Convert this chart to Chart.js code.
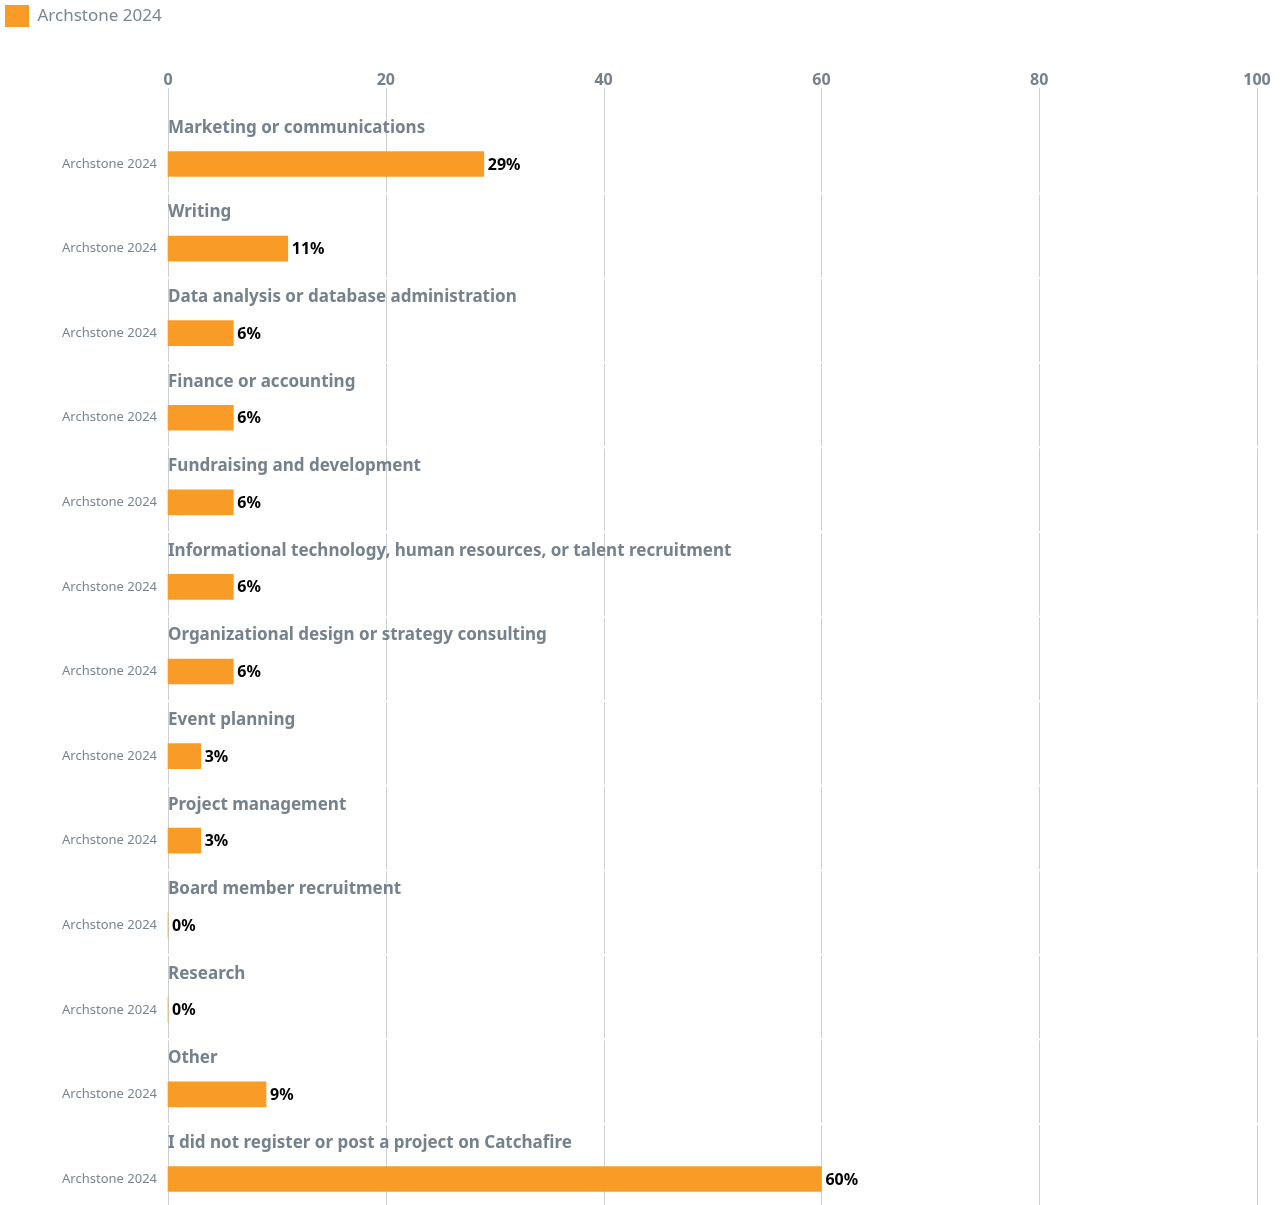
<!DOCTYPE html>
<html>
<head>
<meta charset="utf-8">
<script src="https://cdn.jsdelivr.net/npm/chart.js@4.4.1/dist/chart.umd.min.js"></script>
<style>
  html, body { margin: 0; padding: 0; background: #fff; overflow: hidden; }
  #wrap { width: 1284px; height: 1205px; }
</style>
</head>
<body>
<div id="wrap"><canvas id="chart"></canvas></div>
<script>
const categories = [
  "Marketing or communications",
  "Writing",
  "Data analysis or database administration",
  "Finance or accounting",
  "Fundraising and development",
  "Informational technology, human resources, or talent recruitment",
  "Organizational design or strategy consulting",
  "Event planning",
  "Project management",
  "Board member recruitment",
  "Research",
  "Other",
  "I did not register or post a project on Catchafire"
];
const seriesName = "Archstone 2024";
const values = [29, 11, 6, 6, 6, 6, 6, 3, 3, 0, 0, 9, 60];
const xTicks = [0, 20, 40, 60, 80, 100];

const FONT = "'Noto Sans', 'Open Sans', sans-serif";
const ORANGE = "#F89C27";
const GRAY = "#75818d";
const GRID = "#ccd0d5";

// grid segments, group titles and value labels
const rowPlugin = {
  id: "rows",
  beforeDatasetsDraw(chart) {
    const ctx = chart.ctx;
    const x = chart.scales.x, y = chart.scales.y;
    const step = y.getPixelForTick(1) - y.getPixelForTick(0);
    ctx.save();
    ctx.strokeStyle = GRID;
    ctx.lineWidth = 1;
    xTicks.forEach(t => {
      const px = Math.round(x.getPixelForValue(t)) + 0.5;
      let top = 88;
      for (let i = 0; i < categories.length; i++) {
        const c = y.getPixelForTick(i);
        const bottom = i === categories.length - 1 ? chart.height : c + step - 56;
        ctx.beginPath();
        ctx.moveTo(px, top);
        ctx.lineTo(px, bottom);
        ctx.stroke();
        top = bottom + 2;
      }
    });
    ctx.fillStyle = GRAY;
    ctx.font = "bold 17px " + FONT;
    ctx.textBaseline = "middle";
    ctx.textAlign = "left";
    categories.forEach((c, i) => {
      ctx.fillText(c, x.left, y.getPixelForTick(i) - 36);
    });
    ctx.restore();
  },
  afterDatasetsDraw(chart) {
    const ctx = chart.ctx;
    const meta = chart.getDatasetMeta(0);
    ctx.save();
    ctx.fillStyle = "#000";
    ctx.font = "bold 16px " + FONT;
    ctx.textBaseline = "middle";
    ctx.textAlign = "left";
    meta.data.forEach((bar, i) => {
      ctx.fillText(values[i] + "%", bar.x + 4, bar.y + 1);
    });
    ctx.restore();
  }
};

new Chart(document.getElementById("chart"), {
  type: "bar",
  data: {
    labels: categories,
    datasets: [{
      label: seriesName,
      data: values,
      backgroundColor: ORANGE,
      borderWidth: 0,
      barThickness: 25,
      clip: false
    }]
  },
  options: {
    indexAxis: "y",
    responsive: true,
    maintainAspectRatio: false,
    animation: false,
    layout: { padding: { left: 0, right: 27, top: 0, bottom: 26 } },
    plugins: {
      legend: {
        align: "start",
        labels: {
          boxWidth: 24,
          boxHeight: 22,
          padding: 5,
          color: "#7b8590",
          font: { family: FONT, size: 17 }
        }
      },
      tooltip: { enabled: false }
    },
    scales: {
      x: {
        position: "top",
        min: 0,
        max: 100,
        afterBuildTicks(scale) {
          scale.ticks = xTicks.map(v => ({ value: v }));
        },
        afterFit(scale) {
          scale.height = 127;
          scale.paddingRight = 0;
        },
        grid: { display: false, drawTicks: false },
        border: { display: false },
        ticks: {
          color: GRAY,
          padding: 74,
          font: { family: FONT, size: 16, weight: "bold" }
        }
      },
      y: {
        offset: false,
        afterFit(scale) { scale.width = 168; },
        grid: { display: false, drawTicks: false },
        border: { display: false },
        ticks: {
          padding: 11,
          color: "#7b8590",
          font: { family: FONT, size: 13 },
          callback: () => seriesName
        }
      }
    }
  },
  plugins: [rowPlugin]
});
</script>
</body>
</html>
